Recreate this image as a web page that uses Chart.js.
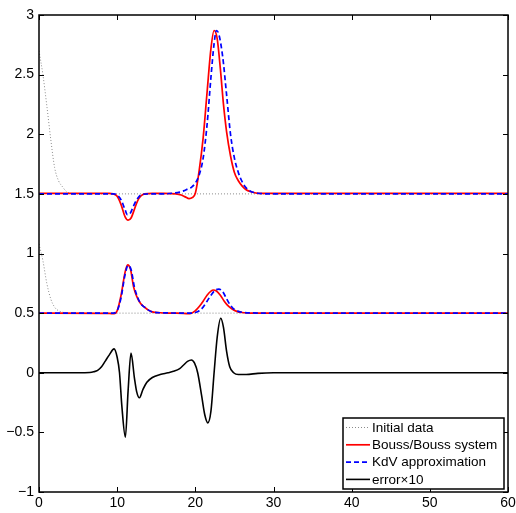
<!DOCTYPE html>
<html>
<head>
<meta charset="utf-8">
<script src="https://cdn.jsdelivr.net/npm/chart.js@4.4.0/dist/chart.umd.min.js"></script>
<style>
html, body { margin: 0; padding: 0; background: #fff; }
canvas { display: block; }
</style>
</head>
<body>
<canvas id="chart" width="516" height="513"></canvas>
<script>
// initial data (two humps, same legend entry)
const initX     = [0, 0.5, 1, 1.5, 2, 2.5, 3, 3.5, 4, 5, 60];
const initUpper = [2.70, 2.50, 2.24, 1.96, 1.72, 1.61, 1.56, 1.52, 1.505, 1.5, 1.5];
const initLower = [1.08, 0.94, 0.75, 0.62, 0.55, 0.52, 0.508, 0.502, 0.5, 0.5, 0.5];

// Bouss/Bouss system, upper
const boussUX = [0, 9, 9.5, 10, 10.5, 11, 11.4, 11.8, 12.2, 12.6, 13, 13.5, 14.5, 16, 17.5, 18.2, 18.7, 19.2, 19.6, 20, 20.5, 21, 21.5, 22, 22.4, 22.8, 23.2, 23.6, 24, 24.5, 25, 25.5, 26, 26.5, 27, 28, 30, 60];
const boussU  = [1.505, 1.505, 1.50, 1.48, 1.41, 1.31, 1.28, 1.30, 1.37, 1.44, 1.48, 1.50, 1.505, 1.505, 1.50, 1.49, 1.475, 1.46, 1.468, 1.505, 1.70, 1.97, 2.35, 2.72, 2.87, 2.80, 2.55, 2.25, 2.02, 1.82, 1.68, 1.61, 1.565, 1.535, 1.52, 1.505, 1.505, 1.505];

// KdV approximation, upper
const kdvUX = [0, 9.5, 10, 10.5, 11, 11.3, 11.7, 12.1, 12.5, 13, 14, 16, 17, 18, 18.5, 19, 19.5, 20, 20.5, 21, 21.5, 22, 22.4, 22.7, 23, 23.5, 24, 24.5, 25, 25.5, 26, 26.5, 27, 28, 30, 60];
const kdvU  = [1.5, 1.5, 1.49, 1.45, 1.37, 1.325, 1.34, 1.40, 1.45, 1.49, 1.50, 1.50, 1.505, 1.515, 1.525, 1.54, 1.555, 1.59, 1.66, 1.80, 2.08, 2.48, 2.76, 2.87, 2.84, 2.65, 2.33, 2.00, 1.80, 1.68, 1.60, 1.55, 1.525, 1.505, 1.5, 1.5];

// Bouss/Bouss system, lower
const boussLX = [0, 9, 9.6, 10, 10.5, 11, 11.35, 11.7, 12.1, 12.5, 13, 13.5, 14, 14.5, 15.5, 17, 18.5, 19.3, 20, 20.5, 21, 21.5, 22, 22.3, 22.7, 23.2, 23.7, 24.2, 24.7, 25.3, 26, 27, 30, 60];
const boussL  = [0.5, 0.498, 0.495, 0.52, 0.65, 0.84, 0.905, 0.87, 0.72, 0.64, 0.58, 0.55, 0.525, 0.51, 0.503, 0.5, 0.498, 0.495, 0.52, 0.555, 0.60, 0.65, 0.685, 0.694, 0.685, 0.65, 0.60, 0.56, 0.535, 0.515, 0.505, 0.5, 0.5, 0.5];

// KdV approximation, lower
const kdvLX = [0, 9.5, 10, 10.5, 11, 11.4, 11.8, 12.2, 12.6, 13, 13.5, 14, 14.5, 15.5, 19.5, 20, 20.5, 21, 21.5, 22, 22.5, 23, 23.5, 24, 24.5, 25, 25.5, 26, 27, 30, 60];
const kdvL  = [0.5, 0.5, 0.52, 0.63, 0.82, 0.90, 0.86, 0.72, 0.635, 0.58, 0.55, 0.525, 0.51, 0.503, 0.5, 0.505, 0.52, 0.55, 0.60, 0.65, 0.69, 0.702, 0.68, 0.62, 0.565, 0.53, 0.515, 0.507, 0.502, 0.5, 0.5];

// error x10
const errX = [0, 5, 6.5, 7, 7.5, 8, 8.5, 9, 9.6, 10, 10.3, 10.6, 11.05, 11.4, 11.77, 12.2, 12.5, 12.85, 13.3, 13.8, 14.5, 15.5, 16.5, 17.2, 18, 18.5, 19, 19.5, 19.9, 20.3, 20.8, 21.2, 21.6, 22, 22.4, 22.8, 23.25, 23.6, 24, 24.4, 24.9, 25.5, 26.5, 28, 30, 60];
const errY = [0, 0, 0.002, 0.008, 0.02, 0.05, 0.1, 0.15, 0.20, 0.13, 0.0, -0.28, -0.54, -0.15, 0.165, -0.04, -0.16, -0.21, -0.14, -0.08, -0.04, -0.015, 0.0, 0.012, 0.035, 0.065, 0.095, 0.107, 0.08, 0.0, -0.19, -0.35, -0.42, -0.32, 0.0, 0.3, 0.457, 0.38, 0.18, 0.05, 0.0, -0.015, -0.015, -0.005, 0, 0];

const xTicks = [0, 10, 20, 30, 40, 50, 60];
const yTicks = [-1, -0.5, 0, 0.5, 1, 1.5, 2, 2.5, 3];

const legendLabels = ['Initial data', 'Bouss/Bouss system', 'KdV approximation', 'error\u00d710'];

function pts(xs, ys) {
    return xs.map((x, i) => ({x: x, y: ys[i]}));
}

const FONT = '"Liberation Sans", Arial, Helvetica, sans-serif';

const styles = {
    init:  {borderColor: '#8a8a8a', borderWidth: 1, borderDash: [1, 2]},
    bouss: {borderColor: '#ff0000', borderWidth: 1.7, borderDash: []},
    kdv:   {borderColor: '#0000ff', borderWidth: 1.7, borderDash: [5, 3]},
    err:   {borderColor: '#000000', borderWidth: 1.6, borderDash: []}
};

function ds(label, data, st, order) {
    return {
        label: label,
        data: data,
        borderColor: st.borderColor,
        borderWidth: st.borderWidth,
        borderDash: st.borderDash,
        pointRadius: 0,
        fill: false,
        cubicInterpolationMode: 'monotone',
        order: order
    };
}

// frame with inward ticks on all four sides + legend box
const framePlugin = {
    id: 'frame',
    afterDatasetsDraw(chart) {
        const c = chart.ctx;
        const a = chart.chartArea;
        const sx = chart.scales.x, sy = chart.scales.y;
        c.save();
        c.strokeStyle = '#000';
        c.lineWidth = 1.5;
        c.setLineDash([]);
        c.strokeRect(a.left, a.top, a.right - a.left, a.bottom - a.top);
        c.lineWidth = 1;
        c.beginPath();
        xTicks.forEach(v => {
            const px = Math.round(sx.getPixelForValue(v)) + 0.5;
            c.moveTo(px, a.bottom); c.lineTo(px, a.bottom - 5);
            c.moveTo(px, a.top); c.lineTo(px, a.top + 5);
        });
        yTicks.forEach(v => {
            const py = Math.round(sy.getPixelForValue(v)) + 0.5;
            c.moveTo(a.left, py); c.lineTo(a.left + 5, py);
            c.moveTo(a.right, py); c.lineTo(a.right - 5, py);
        });
        c.stroke();

        // legend
        const lx = 343, ly = 418, lw = 161, lh = 71;
        c.fillStyle = '#fff';
        c.fillRect(lx, ly, lw, lh);
        c.lineWidth = 1.5;
        c.strokeRect(lx, ly, lw, lh);
        const order = ['init', 'bouss', 'kdv', 'err'];
        c.font = '13.5px ' + FONT;
        c.textBaseline = 'middle';
        c.textAlign = 'left';
        legendLabels.forEach((lab, i) => {
            const st = styles[order[i]];
            const yy = ly + 9.5 + i * 17.3;
            c.strokeStyle = st.borderColor;
            c.lineWidth = st.borderWidth;
            c.setLineDash(st.borderDash);
            c.beginPath();
            c.moveTo(lx + 3, yy);
            c.lineTo(lx + 27, yy);
            c.stroke();
            c.setLineDash([]);
            c.fillStyle = '#000';
            c.fillText(lab, lx + 29, yy + 0.5);
        });
        c.restore();
    }
};

new Chart(document.getElementById('chart'), {
    type: 'line',
    data: {
        datasets: [
            ds('Initial data', pts(initX, initUpper), styles.init, 5),
            ds('Initial data (lower)', pts(initX, initLower), styles.init, 5),
            ds('Bouss/Bouss system', pts(boussUX, boussU), styles.bouss, 3),
            ds('Bouss/Bouss system (lower)', pts(boussLX, boussL), styles.bouss, 3),
            ds('KdV approximation', pts(kdvUX, kdvU), styles.kdv, 1),
            ds('KdV approximation (lower)', pts(kdvLX, kdvL), styles.kdv, 1),
            ds('error\u00d710', pts(errX, errY), styles.err, 4)
        ]
    },
    options: {
        responsive: false,
        animation: false,
        layout: {padding: {top: 15, right: 8, left: 0, bottom: 0}},
        scales: {
            x: {
                type: 'linear',
                min: 0,
                max: 60,
                afterBuildTicks: s => { s.ticks = xTicks.map(v => ({value: v})); },
                afterFit: s => { s.height = 21; s.paddingRight = 0; s.paddingLeft = 0; },
                grid: {display: false, drawTicks: false},
                border: {display: false},
                ticks: {
                    color: '#000',
                    padding: 3,
                    maxRotation: 0,
                    font: {family: FONT, size: 14},
                    callback: v => String(v).replace('-', '\u2212')
                }
            },
            y: {
                type: 'linear',
                min: -1,
                max: 3,
                afterBuildTicks: s => { s.ticks = yTicks.map(v => ({value: v})); },
                afterFit: s => { s.width = 39; },
                grid: {display: false, drawTicks: false},
                border: {display: false},
                ticks: {
                    color: '#000',
                    padding: 5,
                    font: {family: FONT, size: 14},
                    callback: v => String(v).replace('-', '\u2212')
                }
            }
        },
        plugins: {
            legend: {display: false},
            tooltip: {enabled: false}
        }
    },
    plugins: [framePlugin]
});
</script>
</body>
</html>
